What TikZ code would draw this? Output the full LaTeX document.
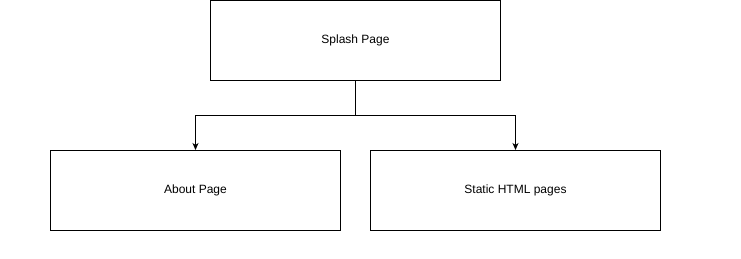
\documentclass[tikz,border=0pt]{standalone}
\usepackage{fontspec}
\setmainfont{Liberation Sans}
\usetikzlibrary{arrows.meta}
\begin{document}
\begin{tikzpicture}[x=1pt,y=-1pt,
  pagebox/.style={draw=black, line width=1pt, fill=white, minimum width=290pt, minimum height=80pt, inner sep=0pt, font=\fontsize{12}{14}\selectfont},
  link/.style={draw=black, line width=1pt, -{Stealth[length=7pt,width=6pt,inset=2pt]}}]
  \useasboundingbox[fill=white] (0,0) rectangle (741,259);
  % page boxes
  \node[pagebox] (splash) at (355.5,40.5) {Splash Page};
  \node[pagebox] (about)  at (195.5,190.5) {About Page};
  \node[pagebox] (static) at (515.5,190.5) {Static HTML pages};
  % branching connectors
  \coordinate (fork) at (355.5,115.5);
  \draw[line width=1pt] (splash.south) -- (fork);
  \draw[link] (fork) -| (about.north);
  \draw[link] (fork) -| (static.north);
\end{tikzpicture}
\end{document}
